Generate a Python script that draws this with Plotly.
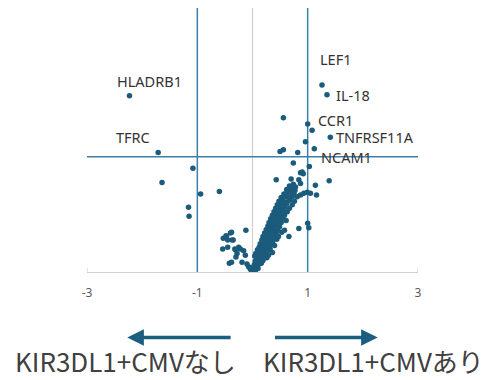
import plotly.graph_objects as go

# ---- data: log2 fold change (x) vs -log10 p (y) ----
side_x = [-1.08, -1.64, -0.94, -0.60, -1.16, -1.15,
          -0.48, -0.40, -0.53, -0.45, -0.37, -0.54, -0.45, -0.31, -0.25, -0.30, -0.42,
          -0.12, -0.38, -0.47, -0.35, -0.32, -0.22, -0.16, -0.28, -0.13, -0.38, -0.19,
          -0.10, -0.07, -0.04]
side_y = [1.17, 1.01, 0.88, 0.91, 0.73, 0.63,
          0.41, 0.44, 0.38, 0.36, 0.36, 0.26, 0.28, 0.25, 0.28, 0.17, 0.10,
          0.47, 0.45, 0.40, 0.36, 0.26, 0.26, 0.24, 0.21, 0.19, 0.11, 0.11,
          0.09, 0.06, 0.03]

band_x = [
    0.00, 0.02, 0.05, 0.01, 0.04, 0.07, 0.10, 0.03, 0.06, 0.09, 0.12, 0.05, 0.09,
    0.13, 0.16, 0.07, 0.11, 0.15, 0.19,
    0.04, 0.08, 0.13, 0.17, 0.21, 0.26, 0.06, 0.11, 0.15, 0.19, 0.24, 0.29, 0.09,
    0.13, 0.17, 0.22, 0.27, 0.32, 0.12, 0.16, 0.20, 0.25, 0.30, 0.36,
    0.14, 0.19, 0.23, 0.28, 0.34, 0.40, 0.17, 0.21, 0.26, 0.31, 0.37, 0.44, 0.19,
    0.24, 0.29, 0.34, 0.39, 0.47, 0.22, 0.27, 0.32, 0.37, 0.43, 0.53, 0.25, 0.30,
    0.35, 0.40, 0.46, 0.58, 0.66,
    0.28, 0.33, 0.38, 0.43, 0.49, 0.30, 0.35, 0.40, 0.45, 0.52, 0.61, 0.33, 0.38,
    0.43, 0.48, 0.55, 0.36, 0.41, 0.46, 0.51, 0.58, 0.39, 0.44, 0.49, 0.55, 0.63,
    0.42, 0.47, 0.52, 0.58, 0.67, 0.45, 0.50, 0.56, 0.62, 0.72, 0.48, 0.54, 0.60,
    0.67, 0.76, 0.52, 0.58, 0.65, 0.72, 0.57, 0.64, 0.71, 0.62, 0.70, 0.77, 0.67,
    0.74,
]
band_y = [
    0.00, 0.02, 0.01, 0.05, 0.04, 0.05, 0.04, 0.08, 0.09, 0.07, 0.09, 0.12, 0.11,
    0.12, 0.10, 0.14, 0.15, 0.14, 0.13,
    0.18, 0.17, 0.19, 0.17, 0.18, 0.16, 0.21, 0.22, 0.21, 0.23, 0.21, 0.19, 0.25,
    0.24, 0.26, 0.25, 0.24, 0.26, 0.28, 0.29, 0.28, 0.29, 0.27, 0.22,
    0.32, 0.33, 0.31, 0.33, 0.31, 0.30, 0.36, 0.37, 0.35, 0.36, 0.35, 0.37, 0.40,
    0.41, 0.39, 0.41, 0.39, 0.40, 0.44, 0.45, 0.43, 0.44, 0.43, 0.45, 0.48, 0.49,
    0.47, 0.48, 0.47, 0.47, 0.40,
    0.52, 0.53, 0.51, 0.53, 0.51, 0.56, 0.57, 0.55, 0.57, 0.56, 0.58, 0.60, 0.61,
    0.59, 0.61, 0.60, 0.64, 0.65, 0.63, 0.65, 0.64, 0.68, 0.69, 0.67, 0.69, 0.68,
    0.72, 0.73, 0.71, 0.73, 0.72, 0.76, 0.77, 0.76, 0.77, 0.76, 0.80, 0.81, 0.79,
    0.81, 0.80, 0.84, 0.85, 0.84, 0.85, 0.88, 0.90, 0.89, 0.93, 0.94, 0.92, 0.97,
    0.99,
]

outer_x = [0.62, 0.75, 0.78, 0.81, 0.87, 0.93, 0.99, 1.05, 0.84, 0.87, 0.87, 0.90,
           0.92, 0.70, 0.43, 0.74, 1.03, 0.50, 0.56, 0.82, 0.96, 0.56, 1.14, 1.16,
           1.39, 1.00, 1.02, 0.84, 1.08]
outer_y = [0.89, 0.89, 0.96, 0.85, 0.87, 0.89, 0.90, 0.89, 1.04, 1.00, 1.12, 1.13,
           1.11, 1.05, 1.04, 1.23, 1.19, 1.36, 1.38, 1.35, 1.47, 1.74, 0.98, 0.87,
           1.03, 0.55, 0.50, 0.49, 1.60]

genes = ["HLADRB1", "TFRC", "LEF1", "IL-18", "CCR1", "TNFRSF11A", "NCAM1"]
gene_x = [-2.23, -1.71, 1.26, 1.35, 1.00, 1.41, 1.12]
gene_y = [1.99, 1.35, 2.11, 2.00, 1.67, 1.52, 1.39]

tick_vals = [-3, -1, 1, 3]
tick_text = ["-3", "-1", "1", "3"]
fc_cut = 1
p_cut = 1.3

left_label = "KIR3DL1+CMVなし"
right_label = "KIR3DL1+CMVあり"

# label offsets (pixels) relative to each labeled point
label_shift = {
    "HLADRB1": (-14, 15), "TFRC": (-44, 15), "LEF1": (-4, 26),
    "IL-18": (7, 0), "CCR1": (8, 4), "TNFRSF11A": (4, 0), "NCAM1": (5, -8),
}

PT = "#1b5b7c"
LN = "#3a80ab"

all_x = side_x + band_x + outer_x + gene_x
all_y = side_y + band_y + outer_y + gene_y

fig = go.Figure()
fig.add_trace(go.Scatter(
    x=all_x, y=all_y, mode="markers",
    marker=dict(size=5.5, color=PT), hoverinfo="skip", showlegend=False,
))

# threshold & reference lines
fig.add_shape(type="line", xref="x", yref="paper", x0=0, x1=0, y0=0, y1=1,
              line=dict(color="#d0d0d0", width=1.2), layer="below")
for v in (-fc_cut, fc_cut):
    fig.add_shape(type="line", xref="x", yref="paper", x0=v, x1=v, y0=0, y1=1,
                  line=dict(color=LN, width=1.5), layer="below")
fig.add_shape(type="line", xref="x", yref="y", x0=-3, x1=3, y0=p_cut, y1=p_cut,
              line=dict(color=LN, width=1.5), layer="below")
# small end ticks on x axis
for v in (-3, 3):
    fig.add_shape(type="line", xref="x", yref="paper", x0=v, x1=v, y0=0, y1=0.016,
                  line=dict(color="#c8c8c8", width=1))

for g, gx, gy in zip(genes, gene_x, gene_y):
    dx, dy = label_shift[g]
    fig.add_annotation(x=gx, y=gy, text=g, showarrow=False, xanchor="left",
                       yanchor="middle", xshift=dx, yshift=dy,
                       font=dict(family="Noto Sans", size=14.5, color="#333333"))

# direction arrows
fig.add_annotation(x=-2.27, y=-0.248, xref="x", yref="paper", ax=-0.37, ay=0,
                   axref="x", ayref="pixel", showarrow=True, arrowhead=2,
                   arrowsize=0.95, arrowwidth=3.5, arrowcolor="#1b5e80", text="")
fig.add_annotation(x=2.27, y=-0.248, xref="x", yref="paper", ax=0.38, ay=0,
                   axref="x", ayref="pixel", showarrow=True, arrowhead=2,
                   arrowsize=0.95, arrowwidth=3.5, arrowcolor="#1b5e80", text="")
fig.add_annotation(x=-2.31, y=-0.335, xref="x", yref="paper", text=left_label,
                   showarrow=False, xanchor="center", yanchor="middle",
                   font=dict(family="Noto Sans CJK JP", size=26, color="#404040"))
fig.add_annotation(x=2.19, y=-0.335, xref="x", yref="paper", text=right_label,
                   showarrow=False, xanchor="center", yanchor="middle",
                   font=dict(family="Noto Sans CJK JP", size=26, color="#404040"))

fig.update_layout(
    width=484, height=380,
    margin=dict(l=87, r=66, t=8, b=108),
    paper_bgcolor="white", plot_bgcolor="white",
    xaxis=dict(range=[-3, 3], tickvals=tick_vals, ticktext=tick_text,
               showgrid=False, zeroline=False, showline=True,
               linecolor="#d0d0d0", linewidth=1, ticks="",
               ticklabelstandoff=10,
               tickfont=dict(family="Noto Sans", size=12, color="#595959")),
    yaxis=dict(range=[0, 2.98], visible=False),
)

fig.write_html("out.html", config={"displayModeBar": False},
               post_script="document.body.style.margin='0px';")
